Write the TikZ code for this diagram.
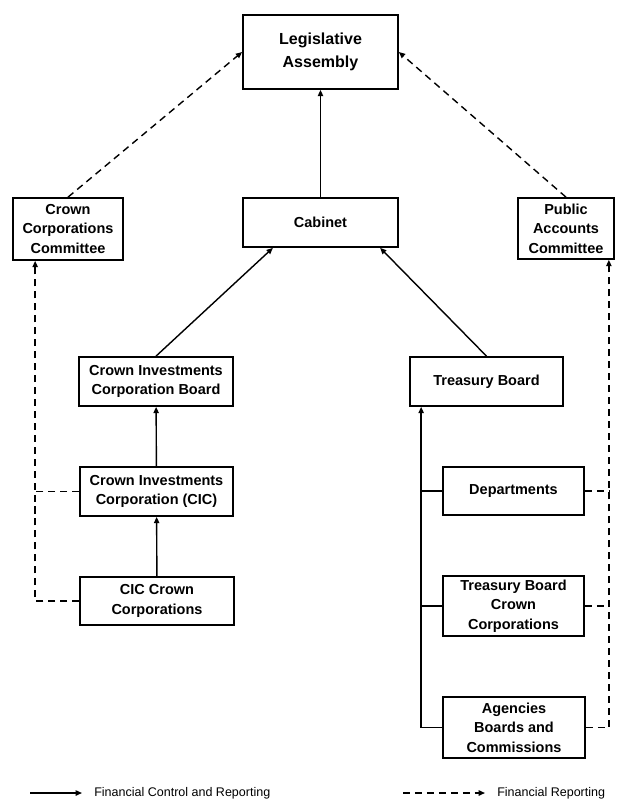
\documentclass[tikz,border=0pt]{standalone}
\usepackage{fontspec}
\setmainfont{Liberation Sans}
\usetikzlibrary{arrows.meta, positioning}

\begin{document}
\begin{tikzpicture}[x=0.025cm, y=-0.025cm,
  box/.style={draw, line width=1.2pt, align=center, inner sep=0pt,
    font=\bfseries\fontsize{10.3}{13.8}\selectfont},
  ctrl/.style={line width=1pt, -{Triangle[length=4.5pt,width=3.8pt]}},
  rep/.style={ctrl, dash pattern=on 5pt off 3.5pt},
  leg/.style={anchor=west, inner xsep=0.3cm, font=\fontsize{8.9}{10}\selectfont}]
\useasboundingbox (0,0) rectangle (617,800);
% boxes
\node[box, minimum width=3.875cm, minimum height=1.85cm,
  font=\bfseries\fontsize{11.4}{16.3}\selectfont] (assembly) at (320.5,52) {Legislative\\Assembly};
\node[box, minimum width=3.875cm, minimum height=1.225cm] (cabinet) at (320.5,222.5) {Cabinet};
\node[box, minimum width=2.75cm, minimum height=1.55cm] (ccc) at (68,229) {Crown\\Corporations\\Committee};
\node[box, minimum width=2.4cm, minimum height=1.525cm] (pac) at (566,228.5) {Public\\Accounts\\Committee};
\node[box, minimum width=3.85cm, minimum height=1.225cm] (cicboard) at (156,381.5) {Crown Investments\\Corporation Board};
\node[box, minimum width=3.825cm, minimum height=1.225cm] (treasury) at (486.5,381.5) {Treasury Board};
\node[box, minimum width=3.825cm, minimum height=1.225cm] (cic) at (156.5,491.5) {Crown Investments\\Corporation (CIC)};
\node[box, minimum width=3.85cm, minimum height=1.2cm] (ciccorps) at (157,601) {CIC Crown\\Corporations};
\node[box, minimum width=3.525cm, minimum height=1.2cm] (depts) at (513.5,491) {Departments};
\node[box, minimum width=3.525cm, minimum height=1.5cm] (tbcorps) at (513.5,606) {Treasury Board\\Crown\\Corporations};
\node[box, minimum width=3.55cm, minimum height=1.525cm] (agencies) at (514,727.5) {Agencies\\Boards and\\Commissions};
% buses
\coordinate (trunk) at ([xshift=0.3cm]treasury.south west);
\coordinate (lbus) at ([xshift=0.575cm]ccc.south west);
\coordinate (rbus) at ([xshift=-0.15cm]pac.south east);
% financial control and reporting
\draw[ctrl] (cabinet) -- (assembly);
\draw[ctrl] (cicboard.north) -- ([xshift=-1.19cm]cabinet.south);
\draw[ctrl] (treasury.north) -- ([xshift=1.49cm]cabinet.south);
\draw[ctrl] (cic) -- (cicboard);
\draw[ctrl] (ciccorps) -- (cic);
\draw[ctrl] (agencies.west) -| (trunk);
\foreach \n in {depts, tbcorps}
  \draw[line width=1pt] (\n.west) -- (\n.west -| trunk);
% financial reporting
\draw[rep] (ccc.north) -- (assembly.west);
\draw[rep] (pac.north) -- (assembly.east);
\draw[rep] (ciccorps.west) -| (lbus);
\draw[rep, -] (cic.west) -- (cic.west -| lbus);
\draw[rep] (agencies.east) -| (rbus);
\foreach \n in {depts, tbcorps}
  \draw[rep, -] (\n.east) -- (\n.east -| rbus);
% legend
\node[leg] (legctrl) at (82,793) {Financial Control and Reporting};
\node[leg] (legrep) at (485,793) {Financial Reporting};
\coordinate (ctrlstart) at (30,793);
\coordinate (repstart) at (403,793);
\draw[ctrl] (ctrlstart) -- (legctrl.west);
\draw[rep] (repstart) -- (legrep.west);
\end{tikzpicture}
\end{document}
